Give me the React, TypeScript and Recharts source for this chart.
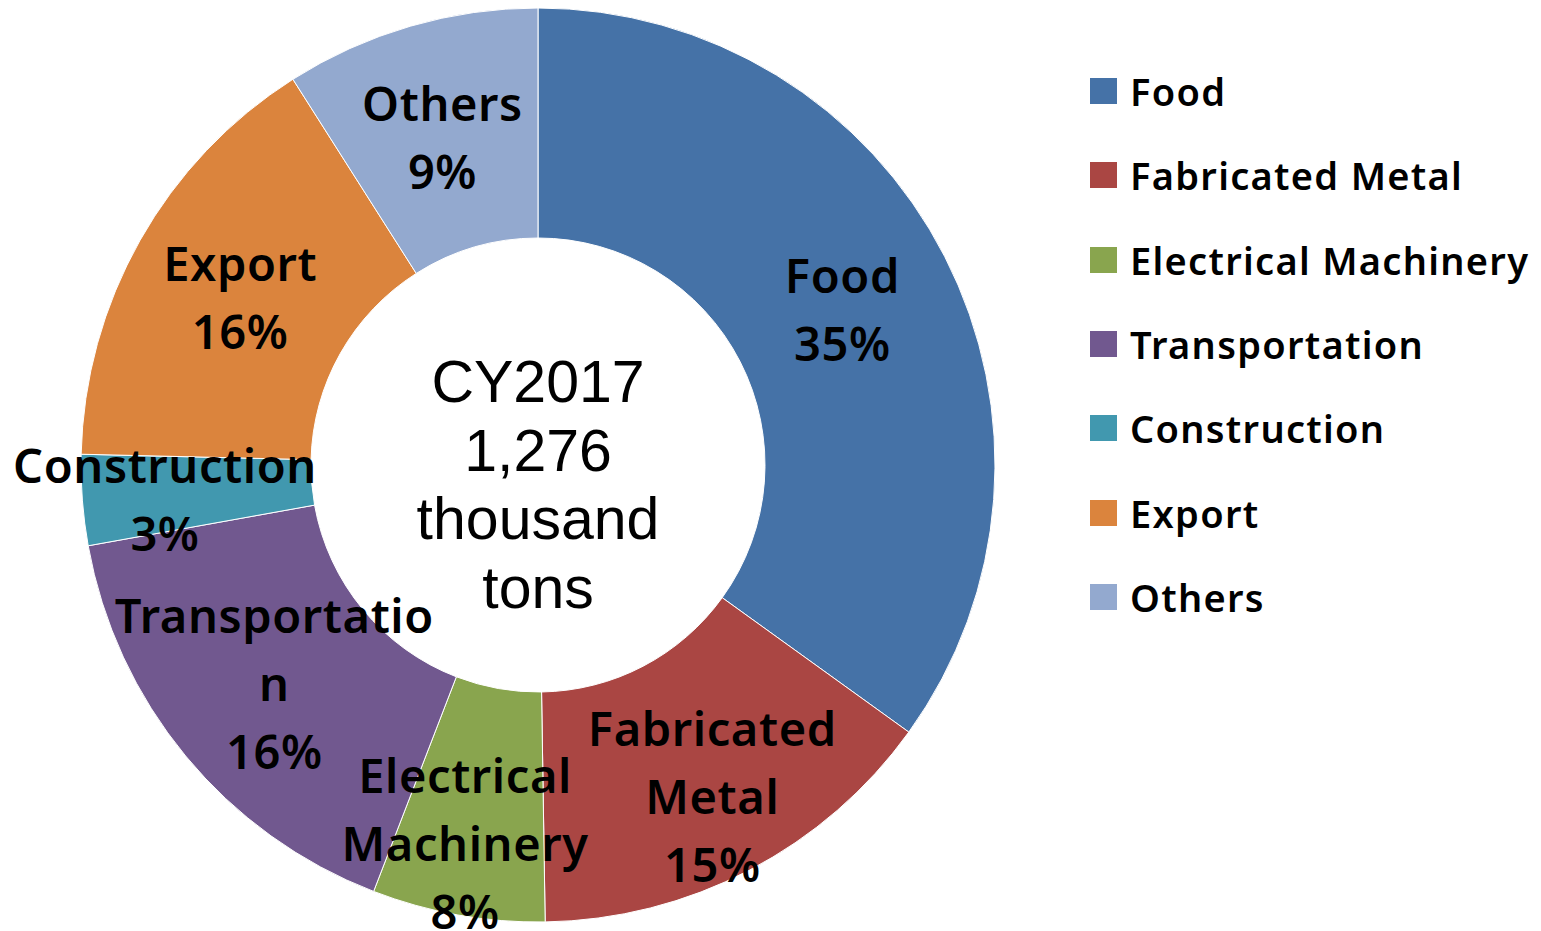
import { Cell, Legend, Pie, PieChart } from "recharts";

// shares measured from the slice angles; labels as printed on the chart
const categories = [
  "Food",
  "Fabricated Metal",
  "Electrical Machinery",
  "Transportation",
  "Construction",
  "Export",
  "Others",
];
const shares = [34.9, 14.8, 6.1, 16.3, 3.2, 15.6, 9.0];
const pctLabels = ["35%", "15%", "8%", "16%", "3%", "16%", "9%"];
const labelLines = [
  ["Food"],
  ["Fabricated", "Metal"],
  ["Electrical", "Machinery"],
  ["Transportatio", "n"],
  ["Construction"],
  ["Export"],
  ["Others"],
];
const centerLines = ["CY2017", "1,276", "thousand", "tons"];

const COLORS = ["#4572A7", "#AA4643", "#89A54E", "#71588F", "#4198AF", "#DB843D", "#93A9CF"];

// Excel moved a few labels a bit off the ring midpoint
const LABEL_SHIFT: Record<string, [number, number]> = {
  "Fabricated Metal": [16, 28],
  "Electrical Machinery": [-13, 41],
  Construction: [-32, 8],
};

const data = categories.map((name, i) => ({ name, value: shares[i], pct: pctLabels[i] }));

const RAD = Math.PI / 180;
const LABEL_FONT = "'Noto Sans', sans-serif";

function renderLabel(props: any) {
  const { cx, cy, midAngle, innerRadius, outerRadius, index } = props;
  const r = (innerRadius + outerRadius) / 2;
  const name = categories[index];
  const [sx, sy] = LABEL_SHIFT[name] ?? [0, 0];
  const x = cx + r * Math.cos(-midAngle * RAD) + sx;
  const y = cy + r * Math.sin(-midAngle * RAD) + sy;
  const lines = [...labelLines[index], pctLabels[index]];
  const lh = 68;
  const top = y - ((lines.length - 1) * lh) / 2;
  return (
    <text
      x={x}
      y={top}
      textAnchor="middle"
      dominantBaseline="central"
      fontFamily={LABEL_FONT}
      fontWeight={600}
      fontSize={47}
      letterSpacing={0.6}
      fill="#000"
    >
      {lines.map((l, i) => (
        <tspan key={i} x={x} y={top + i * lh}>
          {l}
        </tspan>
      ))}
    </text>
  );
}

function LegendBox() {
  return (
    <div
      style={{ fontFamily: LABEL_FONT, fontWeight: 600, fontSize: 38, letterSpacing: 1.3, color: "#000" }}
    >
      {categories.map((c, i) => (
        <div key={c} style={{ display: "flex", alignItems: "center", height: 84.3 }}>
          <span
            style={{ width: 27, height: 26, background: COLORS[i], marginRight: 13, flex: "none" }}
          />
          <span style={{ whiteSpace: "nowrap" }}>{c}</span>
        </div>
      ))}
    </div>
  );
}

export default function App() {
  return (
    <div style={{ position: "absolute", left: 0, top: 0, width: 1541, height: 931, background: "#fff" }}>
      <PieChart width={1541} height={931} margin={{ top: 0, right: 0, bottom: 0, left: 0 }}>
        <Pie
          data={data}
          dataKey="value"
          nameKey="name"
          cx={538}
          cy={465}
          innerRadius={227}
          outerRadius={457}
          startAngle={90}
          endAngle={-270}
          stroke="#ffffff"
          strokeWidth={1}
          label={renderLabel}
          labelLine={false}
          isAnimationActive={false}
        >
          {data.map((d, i) => (
            <Cell key={d.name} fill={COLORS[i]} />
          ))}
        </Pie>
        <Legend
          layout="vertical"
          verticalAlign="top"
          align="right"
          content={() => <LegendBox />}
          wrapperStyle={{ left: 1090, top: 49, width: 451 }}
        />
        <text
          x={538}
          y={380}
          textAnchor="middle"
          fontFamily="'Liberation Sans', Arial, sans-serif"
          fontSize={59}
          fill="#000"
        >
          {centerLines.map((l, i) => (
            <tspan key={i} x={538} y={402 + i * 68.7}>
              {l}
            </tspan>
          ))}
        </text>
      </PieChart>
    </div>
  );
}
